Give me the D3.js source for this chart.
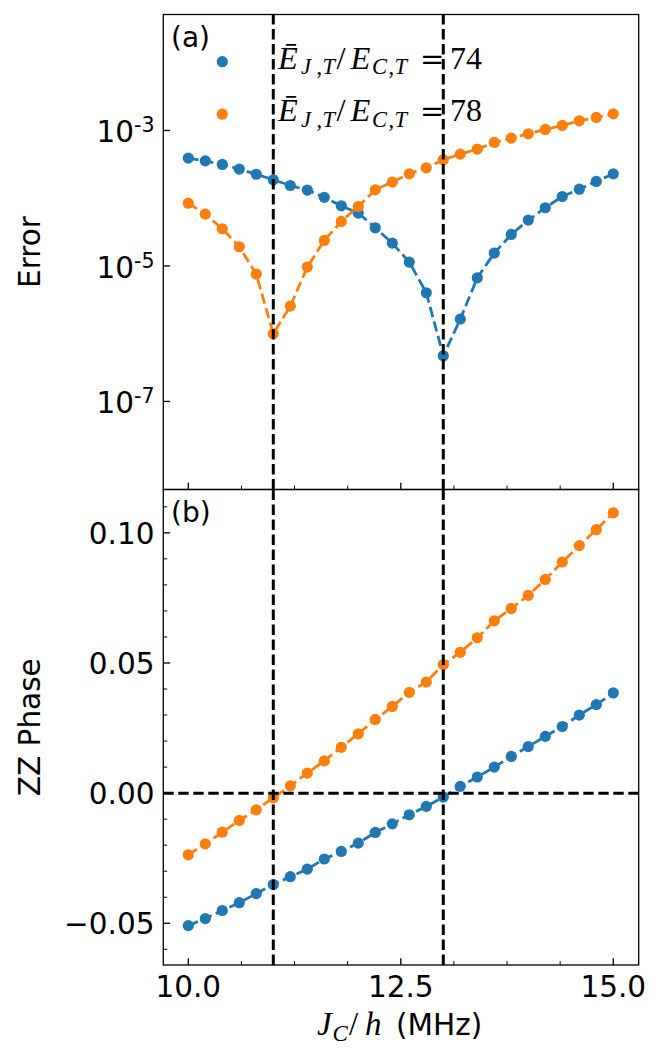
<!DOCTYPE html>
<html>
<head>
<meta charset="utf-8">
<script src="https://cdn.jsdelivr.net/npm/d3@7"></script>
<style>
  html, body { margin: 0; padding: 0; background: #fff; }
  svg { display: block; }
</style>
</head>
<body>
<div id="chart"></div>
<script>
// ---------------- DATA ----------------
const jc = [10.0, 10.2, 10.4, 10.6, 10.8, 11.0, 11.2, 11.4, 11.6, 11.8, 12.0, 12.2, 12.4,
            12.6, 12.8, 13.0, 13.2, 13.4, 13.6, 13.8, 14.0, 14.2, 14.4, 14.6, 14.8, 15.0];

const seriesLabels = ["74", "78"];
const seriesColors = ["#1f77b4", "#ff7f0e"];

const error74 = [3.91e-4, 3.56e-4, 3.15e-4, 2.69e-4, 2.26e-4, 1.87e-4, 1.54e-4, 1.32e-4, 1.03e-4,
                 7.73e-5, 6.03e-5, 3.66e-5, 2.17e-5, 1.14e-5, 4.02e-6, 4.72e-7, 1.64e-6, 6.68e-6,
                 1.55e-5, 2.92e-5, 4.75e-5, 7.23e-5, 1.06e-4, 1.36e-4, 1.77e-4, 2.29e-4];
const error78 = [8.45e-5, 5.82e-5, 3.54e-5, 1.92e-5, 7.57e-6, 9.98e-7, 2.55e-6, 9.62e-6, 2.38e-5,
                 4.54e-5, 7.55e-5, 1.33e-4, 1.73e-4, 2.29e-4, 2.81e-4, 3.69e-4, 4.48e-4, 5.30e-4,
                 6.65e-4, 7.71e-4, 8.93e-4, 1.035e-3, 1.186e-3, 1.39e-3, 1.556e-3, 1.76e-3];

const phase74 = [-0.0509, -0.0482, -0.0451, -0.0421, -0.0386, -0.0351, -0.0321, -0.0292, -0.0253,
                 -0.0224, -0.0192, -0.0151, -0.0118, -0.0083, -0.0051, -0.0015, 0.0026, 0.0062,
                 0.0100, 0.0141, 0.0179, 0.0218, 0.0256, 0.0300, 0.0340, 0.0385];
const phase78 = [-0.0237, -0.0195, -0.0150, -0.0105, -0.0064, -0.0018, 0.0028, 0.0077, 0.0124,
                 0.0176, 0.0228, 0.0283, 0.0333, 0.0387, 0.0427, 0.0494, 0.0541, 0.0597,
                 0.0662, 0.0709, 0.0760, 0.0821, 0.0888, 0.0951, 0.1012, 0.1077];

const xMajorTicks = [10.0, 12.5, 15.0];
const xMinorTicks = [10.625, 11.25, 11.875, 13.125, 13.75, 14.375];
const errTicks = [1e-3, 1e-5, 1e-7];
const errTickExp = ["-3", "-5", "-7"];
const phaseMajorTicks = [-0.05, 0.0, 0.05, 0.10];
const phaseMinorTicks = [-0.06, -0.04, -0.03, -0.02, -0.01, 0.01, 0.02, 0.03, 0.04, 0.06, 0.07, 0.08, 0.09, 0.11];
const vRefLines = [11.0, 13.0];
const hRefLine = 0.0;

// ---------------- LAYOUT ----------------
const W = 663, H = 1059;
const L = 163.3, R = 638.7;
const aTop = 14.5, aBot = 489.5, bTop = 489.5, bBot = 965;
const SANS = "'DejaVu Sans', sans-serif";
const SERIF = "'Liberation Serif', 'DejaVu Serif', serif";
const FS = 29.5;

const svg = d3.select("#chart").append("svg").attr("width", W).attr("height", H);

const x = d3.scaleLinear().domain([9.706, 15.299]).range([L, R]);
const yA = d3.scaleLog().domain([Math.pow(10, -8.30), Math.pow(10, -1.288)]).range([aBot, aTop]);
const yB = d3.scaleLinear().domain([-0.06603, 0.11665]).range([bBot, bTop]);

const defs = svg.append("defs");
defs.append("clipPath").attr("id", "clipA").append("rect")
  .attr("x", L).attr("y", aTop).attr("width", R - L).attr("height", aBot - aTop);
defs.append("clipPath").attr("id", "clipB").append("rect")
  .attr("x", L).attr("y", bTop).attr("width", R - L).attr("height", bBot - bTop);

const DASH = "10.4,4.6";

function drawSeries(g, ys, yScale, color) {
  const pts = jc.map((v, i) => [v, ys[i]]);
  g.append("path")
    .attr("d", d3.line().x(d => x(d[0])).y(d => yScale(d[1]))(pts))
    .attr("fill", "none").attr("stroke", color).attr("stroke-width", 2.8)
    .attr("stroke-dasharray", DASH);
  g.selectAll(null).data(pts).enter().append("circle")
    .attr("cx", d => x(d[0])).attr("cy", d => yScale(d[1])).attr("r", 5.6)
    .attr("fill", color);
}

function drawPanel(clipId, top, bot, yScale, dataSets) {
  const g = svg.append("g").attr("clip-path", `url(#${clipId})`);
  dataSets.forEach((ys, i) => drawSeries(g, ys, yScale, seriesColors[i]));
  vRefLines.forEach(v => {
    g.append("line").attr("x1", x(v)).attr("x2", x(v)).attr("y1", bot).attr("y2", top)
      .attr("stroke", "#000").attr("stroke-width", 3).attr("stroke-dasharray", DASH);
  });
  return g;
}

// Panel (a)
drawPanel("clipA", aTop, aBot, yA, [error74, error78]);
// Panel (b)
const gB = drawPanel("clipB", bTop, bBot, yB, [phase74, phase78]);
gB.append("line").attr("x1", L).attr("x2", R).attr("y1", yB(hRefLine)).attr("y2", yB(hRefLine))
  .attr("stroke", "#000").attr("stroke-width", 3).attr("stroke-dasharray", DASH);

// Ticks
const axG = svg.append("g").attr("stroke", "#000");
function xTicks(bot) {
  xMajorTicks.forEach(v => axG.append("line").attr("x1", x(v)).attr("x2", x(v))
    .attr("y1", bot).attr("y2", bot - 6.8).attr("stroke-width", 1.3));
  xMinorTicks.forEach(v => axG.append("line").attr("x1", x(v)).attr("x2", x(v))
    .attr("y1", bot).attr("y2", bot - 3.9).attr("stroke-width", 1.0));
}
xTicks(aBot);
xTicks(bBot);
errTicks.forEach(v => axG.append("line").attr("x1", L).attr("x2", L + 6.8)
  .attr("y1", yA(v)).attr("y2", yA(v)).attr("stroke-width", 1.3));
phaseMajorTicks.forEach(v => axG.append("line").attr("x1", L).attr("x2", L + 6.8)
  .attr("y1", yB(v)).attr("y2", yB(v)).attr("stroke-width", 1.3));
phaseMinorTicks.forEach(v => axG.append("line").attr("x1", L).attr("x2", L + 3.9)
  .attr("y1", yB(v)).attr("y2", yB(v)).attr("stroke-width", 1.0));

// Spines
svg.append("rect").attr("x", L).attr("y", aTop).attr("width", R - L).attr("height", aBot - aTop)
  .attr("fill", "none").attr("stroke", "#000").attr("stroke-width", 1.3);
svg.append("rect").attr("x", L).attr("y", bTop).attr("width", R - L).attr("height", bBot - bTop)
  .attr("fill", "none").attr("stroke", "#000").attr("stroke-width", 1.3);

// Tick labels
const txt = svg.append("g").attr("font-family", SANS).attr("fill", "#000");
xMajorTicks.forEach(v => txt.append("text").attr("x", x(v)).attr("y", bBot + 31.7)
  .attr("text-anchor", "middle").attr("font-size", FS).text(d3.format(".1f")(v)));
errTicks.forEach((v, i) => {
  const t = txt.append("text").attr("x", L - 8.8).attr("y", yA(v) + 11.7)
    .attr("text-anchor", "end").attr("font-size", FS);
  t.append("tspan").text("10");
  t.append("tspan").attr("dy", -10).attr("font-size", 20.6).text(errTickExp[i]);
});
phaseMajorTicks.forEach(v => txt.append("text").attr("x", L - 8.8).attr("y", yB(v) + 11)
  .attr("text-anchor", "end").attr("font-size", FS).text(d3.format(".2f")(v)));

// Axis labels
txt.append("text").attr("transform", `translate(39.5,${(aTop + aBot) / 2}) rotate(-90)`)
  .attr("text-anchor", "middle").attr("font-size", FS).text("Error");
txt.append("text").attr("transform", `translate(39.5,${(bTop + bBot) / 2}) rotate(-90)`)
  .attr("text-anchor", "middle").attr("font-size", FS).text("ZZ Phase");

// x label: J_C/h (MHz)
const cx = (L + R) / 2;
const xl = svg.append("text").attr("y", 1034.5).attr("fill", "#000");
xl.append("tspan").attr("x", cx - 84).attr("font-family", SERIF).attr("font-style", "italic")
  .attr("font-size", 33).text("J");
xl.append("tspan").attr("x", cx - 68.5).attr("dy", 6).attr("font-family", SERIF).attr("font-style", "italic")
  .attr("font-size", 23).text("C");
xl.append("tspan").attr("x", cx - 52).attr("dy", -6).attr("font-family", SERIF)
  .attr("font-size", 33).text("/");
xl.append("tspan").attr("x", cx - 36).attr("font-family", SERIF).attr("font-style", "italic")
  .attr("font-size", 33).text("h");
xl.append("tspan").attr("x", cx - 5).attr("font-family", SANS).attr("font-size", FS).text("(MHz)");

// Panel labels
txt.append("text").attr("x", 171).attr("y", 46.5).attr("font-size", 28).text("(a)");
txt.append("text").attr("x", 171).attr("y", 521.5).attr("font-size", 28).text("(b)");

// Legend
const legY = [68.5, 121.2];
const legMarkerDy = -7;
seriesLabels.forEach((lab, i) => {
  const by = legY[i];
  svg.append("circle").attr("cx", 222.3).attr("cy", by + legMarkerDy + (i === 0 ? 0.2 : 0))
    .attr("r", 5.6).attr("fill", seriesColors[i]);
  const x0 = 280;
  const t = svg.append("text").attr("y", by).attr("fill", "#000").attr("font-family", SERIF);
  const it = (s, dx, size, dy, italic) => {
    const sp = t.append("tspan").attr("x", x0 + dx).attr("font-size", size).text(s);
    if (dy) sp.attr("dy", dy);
    if (italic) sp.attr("font-style", "italic");
  };
  it("\u0112", -2, 32.5, 0, true);
  it("J", 21, 22.5, 5.5, true);
  it(",", 36.5, 22.5, 0, false);
  it("T", 42.5, 22.5, 0, true);
  it("/", 56.5, 32.5, -5.5, false);
  it("E", 70.5, 32.5, 0, true);
  it("C", 92, 22.5, 5.5, true);
  it(",", 108.5, 22.5, 0, false);
  it("T", 114.5, 22.5, 0, true);
  t.append("tspan").attr("x", x0 + 140).attr("dy", -5.5).attr("font-family", "'DejaVu Serif', serif")
    .attr("font-size", 29).text("=");
  it(lab, 170, 32, 0, false);
});
</script>
</body>
</html>
